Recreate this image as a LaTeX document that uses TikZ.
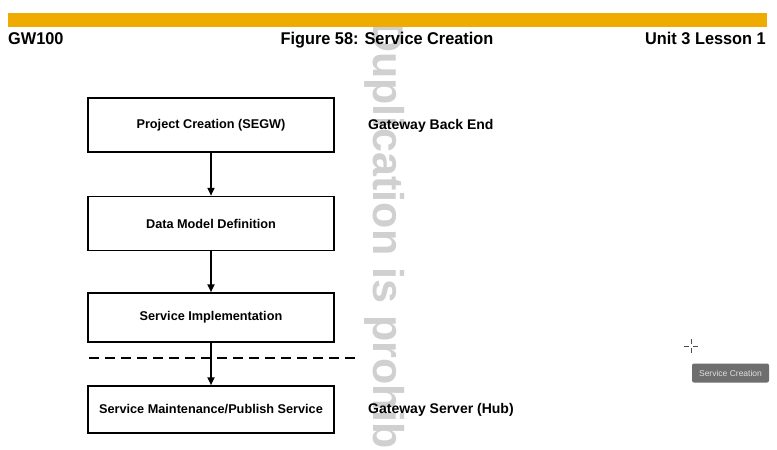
\documentclass[tikz,border=0pt]{standalone}
\usepackage{fontspec}
\setmainfont{Liberation Sans}
\usetikzlibrary{arrows.meta}
\definecolor{sapgold}{HTML}{F0AB00}
\definecolor{wmgray}{HTML}{D0D0D0}
\definecolor{tipgray}{HTML}{6E6E6E}
\begin{document}
\begin{tikzpicture}[x=1pt,y=-1pt,
  stepbox/.style={draw=black,line width=1.5pt,minimum width=246pt,minimum height=#1,inner sep=0pt,font=\fontsize{12.7}{14}\selectfont\bfseries},
  flow/.style={draw=black,line width=2pt,-{Triangle[length=8pt,width=7pt]}},
  sidelabel/.style={anchor=west,inner sep=0pt,font=\fontsize{14}{16}\selectfont\bfseries},
  header/.style={inner sep=0pt,font=\fontsize{17}{19}\selectfont\bfseries}]
\useasboundingbox (0,0) rectangle (777,450);
\fill[white] (0,0) rectangle (777,450);
% watermark
\begin{scope}
\clip (0,0) rectangle (777,450);
\node[rotate=-90,anchor=base west,inner sep=0pt,text=wmgray,font=\fontsize{43}{48}\selectfont\bfseries] (wm) at (373,21) {Duplication is prohibited};
\end{scope}
% header
\fill[sapgold] (8,13) rectangle (767,27);
\node[header,anchor=base west] (gw) at (8,44) {\scalebox{0.96}[1]{GW100}};
\node[header,anchor=base] (title) at (387,44) {\scalebox{0.96}[1]{Figure 58: Service Creation}};
\node[header,anchor=base east] (unit) at (766,44) {\scalebox{0.96}[1]{Unit 3 Lesson 1}};
% boxes
\node[stepbox=54pt] (b1) at (211,125) {Project Creation (SEGW)};
\node[stepbox=54pt] (b2) at (211,223.5) {Data Model Definition};
\node[stepbox=49pt] (b3) at (211,317.5) {Service Implementation};
\node[stepbox=47pt] (b4) at (211,409.5) {Service Maintenance/Publish Service};
\draw[flow] (b1.south) -- (b2.north);
\draw[flow] (b2.south) -- (b3.north);
\coordinate (dl) at (89,358);
\coordinate (dr) at (357,358);
\draw[line width=1.8pt,dash pattern=on 10pt off 6pt] (dl) -- (dr);
\draw[flow] (b3.south) -- (b4.north);
\node[sidelabel] (back) at (368,126) {Gateway Back End};
\node[sidelabel] (hub) at (368,410) {Gateway Server (Hub)};
% tooltip and cursor
\node[fill=tipgray,rounded corners=2pt,text=white!88!black,minimum width=77pt,minimum height=19pt,inner sep=0pt,font=\fontsize{8.5}{10}\selectfont] (tip) at (730.5,373) {Service Creation};
\coordinate (cur) at (691,346);
\draw[line width=0.8pt,black!70] ([xshift=-7pt]cur) -- ([xshift=-2pt]cur) ([xshift=2pt]cur) -- ([xshift=7pt]cur)
  ([yshift=-7pt]cur) -- ([yshift=-2pt]cur) ([yshift=2pt]cur) -- ([yshift=7pt]cur);
\end{tikzpicture}
\end{document}
